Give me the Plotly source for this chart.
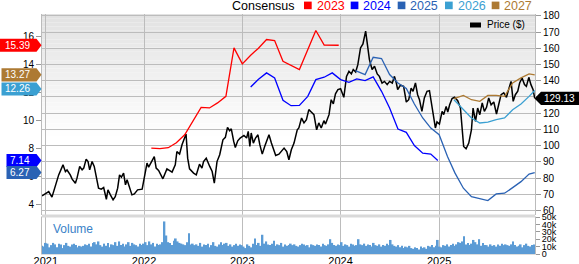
import plotly.graph_objects as go
import pandas as pd

# ---------------- data ----------------
price_dates = [
    "2020-12-18", "2021-01-12", "2021-01-24", "2021-02-12", "2021-02-18", "2021-03-06", "2021-03-15", "2021-03-21",
    "2021-04-02", "2021-04-09", "2021-04-21", "2021-04-27", "2021-05-07", "2021-05-16", "2021-05-22", "2021-05-31",
    "2021-06-07", "2021-06-13", "2021-06-22", "2021-06-30", "2021-07-11", "2021-07-16", "2021-07-26", "2021-08-04",
    "2021-08-14", "2021-08-20", "2021-08-29", "2021-09-08", "2021-09-16", "2021-09-25", "2021-10-02", "2021-10-09",
    "2021-10-17", "2021-10-24", "2021-10-30", "2021-11-05", "2021-11-17", "2021-11-26", "2021-12-08", "2021-12-25",
    "2022-01-02", "2022-01-12", "2022-01-18", "2022-01-28", "2022-02-08", "2022-02-15", "2022-02-24", "2022-03-12",
    "2022-03-21", "2022-03-27", "2022-04-15", "2022-04-27", "2022-05-03", "2022-05-13", "2022-05-22", "2022-05-31",
    "2022-06-06", "2022-06-12", "2022-06-19", "2022-07-04", "2022-07-14", "2022-07-26", "2022-08-04", "2022-08-10",
    "2022-08-20", "2022-09-02", "2022-09-11", "2022-09-19", "2022-09-29", "2022-10-09", "2022-10-21", "2022-10-30",
    "2022-11-07", "2022-11-15", "2022-11-21", "2022-11-30", "2022-12-06", "2022-12-15", "2022-12-24",
    "2023-01-07", "2023-01-17", "2023-01-23", "2023-01-29", "2023-02-03", "2023-02-11", "2023-02-19", "2023-02-28",
    "2023-03-07", "2023-03-16", "2023-03-25", "2023-04-01", "2023-04-10", "2023-04-19", "2023-05-05", "2023-05-17",
    "2023-05-30", "2023-06-05", "2023-06-15", "2023-06-23", "2023-07-02", "2023-07-12", "2023-07-24", "2023-07-30",
    "2023-08-09", "2023-08-18", "2023-08-27", "2023-09-05", "2023-09-14", "2023-09-24", "2023-10-04", "2023-10-12",
    "2023-10-21", "2023-10-31", "2023-11-06", "2023-11-19", "2023-11-27", "2023-12-05", "2023-12-13", "2023-12-22",
    "2024-01-01", "2024-01-13", "2024-01-23", "2024-02-01", "2024-02-10", "2024-02-17", "2024-02-26", "2024-03-05",
    "2024-03-15", "2024-03-24", "2024-04-03", "2024-04-11", "2024-04-17", "2024-04-27", "2024-05-06", "2024-05-16",
    "2024-05-24", "2024-06-03", "2024-06-12", "2024-06-22", "2024-07-01", "2024-07-11", "2024-07-19", "2024-07-26",
    "2024-07-31", "2024-08-10", "2024-08-22", "2024-09-01", "2024-09-10", "2024-09-19", "2024-09-26", "2024-10-05",
    "2024-10-13", "2024-10-20", "2024-10-29", "2024-11-07", "2024-11-17", "2024-11-26", "2024-12-05", "2024-12-18",
    "2024-12-24",
    "2025-01-02", "2025-01-12", "2025-01-18", "2025-01-27", "2025-02-02", "2025-02-09", "2025-02-18", "2025-02-27",
    "2025-03-11", "2025-03-21", "2025-03-27", "2025-04-02", "2025-04-11", "2025-04-21", "2025-05-01", "2025-05-07",
    "2025-05-16", "2025-05-24", "2025-06-01", "2025-06-10", "2025-06-18", "2025-06-26", "2025-07-04", "2025-07-13",
    "2025-07-23", "2025-08-02", "2025-08-10", "2025-08-19", "2025-08-29", "2025-09-08", "2025-09-16", "2025-09-25",
    "2025-10-03", "2025-10-11", "2025-10-20", "2025-10-27", "2025-11-05", "2025-11-14", "2025-11-21", "2025-11-30",
    "2025-12-08", "2025-12-16", "2025-12-22",
]
price_values = [
    69.1, 71.7, 68.3, 80.0, 82.0, 88.2, 84.0, 85.0,
    82.0, 79.4, 76.9, 80.0, 87.2, 85.1, 86.2, 91.7,
    90.2, 85.1, 90.2, 87.2, 79.0, 73.8, 73.2, 74.2,
    67.0, 72.8, 69.7, 66.6, 68.6, 73.8, 82.0, 80.6,
    83.1, 75.9, 79.0, 75.9, 69.7, 70.3, 72.8, 73.2,
    81.0, 89.3, 86.8, 90.2, 93.3, 86.2, 84.7, 79.6,
    84.1, 85.7, 83.7, 88.2, 96.4, 94.8, 100.6, 104.3,
    107.2, 92.3, 85.7, 83.1, 82.0, 88.6, 86.2, 90.2,
    92.3, 87.2, 84.1, 76.9, 90.2, 94.4, 103.6, 105.1,
    111.2, 109.2, 110.4, 102.6, 98.9, 103.0, 104.7,
    106.3, 104.7, 108.8, 99.5, 107.8, 101.6, 104.7, 106.7,
    100.6, 94.8, 99.5, 102.6, 106.7, 101.6, 94.0, 94.8,
    96.9, 98.5, 96.4, 91.3, 97.5, 101.6, 109.8, 110.9,
    117.0, 114.0, 116.0, 122.2, 120.7, 119.1, 109.8, 114.0,
    110.9, 115.4, 113.3, 119.1, 128.3, 125.7, 131.9, 134.5,
    135.1, 129.8, 142.7, 145.8, 144.2, 146.9, 145.4, 149.9,
    160.2, 162.7, 170.5, 160.2, 153.0, 146.9, 148.9, 144.2,
    142.7, 138.6, 139.6, 137.6, 139.6, 138.6, 142.7, 138.6,
    134.5, 137.2, 136.5, 126.9, 128.3, 135.5, 133.5, 138.6,
    131.4, 128.3, 121.1, 129.4, 133.5, 133.9, 123.2, 110.9,
    114.6,
    113.3, 121.1, 119.1, 124.2, 120.7, 125.2, 129.0, 129.8,
    127.7, 123.2, 110.9, 99.5, 98.1, 101.6, 109.8, 123.2,
    114.9, 123.2, 119.1, 126.3, 121.1, 123.6, 129.4, 125.2,
    126.9, 119.5, 125.2, 131.4, 132.5, 129.8, 134.5, 139.6,
    127.3, 131.4, 133.5, 138.6, 141.7, 137.6, 136.5, 142.1,
    137.6, 134.5, 129.13,
]

# Consensus EPS estimates (left axis)
c2023_dates = ["2022-01-28", "2022-03-01", "2022-04-01", "2022-05-01", "2022-06-01", "2022-07-01", "2022-08-01",
               "2022-09-01", "2022-10-01", "2022-11-01", "2022-12-01", "2023-01-01", "2023-02-01", "2023-03-01",
               "2023-04-01", "2023-05-01", "2023-06-01", "2023-08-01", "2023-09-01", "2023-10-01", "2023-11-01",
               "2023-12-25"]
c2023_values = [8.02, 7.98, 8.05, 8.4, 8.98, 9.93, 10.94, 10.9, 11.26, 11.73, 15.2, 14.06, 14.68, 15.16,
                15.8, 15.73, 14.24, 13.65, 15.08, 16.45, 15.4, 15.39]
c2024_dates = ["2023-02-01", "2023-03-01", "2023-04-01", "2023-05-01", "2023-06-01", "2023-07-01", "2023-08-01",
               "2023-09-01", "2023-10-01", "2023-11-01", "2023-12-01", "2024-01-01", "2024-02-01", "2024-03-01",
               "2024-04-01", "2024-05-01", "2024-06-01", "2024-07-01", "2024-08-01", "2024-09-01", "2024-10-01",
               "2024-11-01", "2024-12-01", "2024-12-27"]
c2024_values = [12.4, 12.93, 13.41, 13.05, 11.45, 11.06, 11.08, 11.73, 12.93, 13.1, 13.41, 12.93, 12.74, 12.98,
                12.86, 13.12, 12.09, 10.9, 9.39, 9.15, 8.21, 7.66, 7.59, 7.14]
c2025_dates = ["2024-02-25", "2024-04-01", "2024-05-01", "2024-06-01", "2024-07-01", "2024-08-01", "2024-09-01",
               "2024-10-01", "2024-11-01", "2024-12-01", "2025-01-01", "2025-02-01", "2025-03-01", "2025-04-01",
               "2025-05-01", "2025-06-01", "2025-07-01", "2025-08-01", "2025-09-01", "2025-10-01", "2025-11-01",
               "2025-12-01", "2025-12-22"]
c2025_values = [13.58, 13.29, 14.53, 14.44, 13.29, 12.69, 12.3, 11.18, 10.18, 9.46, 8.98, 7.42, 6.23, 5.15,
                4.55, 4.43, 4.26, 4.74, 4.79, 5.19, 5.62, 6.16, 6.27]
c2026_dates = ["2025-02-25", "2025-04-01", "2025-05-01", "2025-06-01", "2025-07-01", "2025-08-01", "2025-09-01",
               "2025-10-01", "2025-11-01", "2025-12-01", "2025-12-22"]
c2026_values = [11.49, 10.77, 10.18, 9.82, 9.89, 10.06, 10.18, 10.77, 11.18, 11.73, 12.15]
c2027_dates = ["2025-02-25", "2025-04-01", "2025-05-01", "2025-06-01", "2025-07-01", "2025-08-01", "2025-09-01",
               "2025-10-01", "2025-11-01", "2025-12-01", "2025-12-22"]
c2027_values = [11.56, 11.8, 11.49, 11.37, 11.8, 11.8, 11.73, 12.69, 13.05, 13.34, 13.27]

consensus_years = ["2023", "2024", "2025", "2026", "2027"]
consensus_latest = ["15.39", "7.14", "6.27", "12.26", "13.27"]
latest_price = 129.13

# weekly volume (thousands), starting 2020-12-18
volume_k = [
    11, 10,
    # 2021
    15, 14, 9, 12, 15, 13, 9, 14, 13, 8, 12, 15, 11,
    10, 13, 14, 12, 9, 11, 10, 11, 13, 12, 14, 10, 15,
    16, 13, 17, 12, 10, 14, 11, 15, 9, 13, 12, 16, 11,
    17, 12, 14, 10, 13, 16, 11, 15, 13, 12, 10, 14, 12,
    # 2022
    14, 16, 12, 17, 13, 15, 10, 14, 12, 13, 16, 44, 25,
    16, 15, 12, 18, 21, 17, 15, 14, 13, 12, 16, 28, 13,
    14, 12, 13, 11, 15, 10, 13, 12, 14, 9, 12, 16, 11,
    10, 13, 16, 12, 14, 15, 11, 13, 10, 12, 14, 11, 13,
    # 2023
    12, 10, 8, 13, 11, 9, 14, 21, 12, 15, 11, 26, 14,
    17, 13, 12, 14, 18, 11, 13, 12, 15, 10, 13, 11, 12,
    14, 12, 13, 11, 10, 12, 14, 13, 11, 12, 9, 13, 12,
    11, 13, 12, 10, 14, 12, 11, 13, 20, 15, 12, 11, 13,
    # 2024
    12, 16, 11, 13, 12, 10, 14, 13, 11, 12, 20, 13, 12,
    14, 11, 13, 12, 10, 15, 12, 11, 13, 10, 12, 11, 14,
    12, 19, 13, 11, 10, 12, 9, 11, 8, 10, 9, 11, 8,
    7, 9, 8, 6, 10, 8, 9, 7, 11, 10, 12, 9, 11,
    # 2025
    19, 10, 9, 12, 11, 13, 10, 12, 14, 11, 13, 16, 15,
    17, 24, 13, 15, 12, 14, 19, 16, 13, 20, 11, 15, 12,
    12, 10, 13, 11, 12, 10, 13, 11, 14, 12, 13, 12, 11,
    13, 17, 12, 10, 11, 13, 9, 12, 14, 11, 10, 12, 13,
]
volume_dates = pd.date_range("2020-12-18", periods=len(volume_k), freq="7D")
volume = [v * 1000 for v in volume_k]

price_ticks = list(range(60, 190, 10))
eps_ticks = [4, 6, 8, 10, 12, 14, 16]
vol_ticks = [0, 10000, 20000, 30000, 40000, 50000]
vol_ticktext = ["0", "10k", "20k", "30k", "40k", "50k"]
year_ticks = ["2021-01-01", "2022-01-01", "2023-01-01", "2024-01-01", "2025-01-01"]

# ---------------- styles / geometry ----------------
W, H = 579, 264
ML, MR, MT, MB = 42, 44, 14, 10
PW, PH = W - ML - MR, H - MT - MB
FONT = "Liberation Sans, Arial, sans-serif"
GRID = "#bcbcbc"
colors = {"2023": "#ff0000", "2024": "#0000ff", "2025": "#2a62b4", "2026": "#3ba0d2", "2027": "#ad7a33"}


def px(x):
    return (x - ML) / PW


def py(y):
    return (H - MB - y) / PH


fig = go.Figure()

# price on the base (right) axis, which carries the horizontal grid
fig.add_trace(go.Scatter(x=price_dates, y=price_values, mode="lines", line=dict(color="#000000", width=1.5),
                         xaxis="x", yaxis="y", showlegend=False))

series = [(c2023_dates, c2023_values), (c2024_dates, c2024_values), (c2025_dates, c2025_values),
          (c2026_dates, c2026_values), (c2027_dates, c2027_values)]
for yr, (d, v) in zip(consensus_years, series):
    fig.add_trace(go.Scatter(x=d, y=v, mode="lines", line=dict(color=colors[yr], width=1.3),
                             xaxis="x", yaxis="y2", showlegend=False, hoverinfo="skip"))

fig.add_trace(go.Bar(x=volume_dates, y=volume, marker=dict(color="#5b9bd5", line=dict(width=0)),
                     xaxis="x2", yaxis="y3", showlegend=False))

main_dom = [py(215), 1]
vol_dom = [0, py(217)]
xr = ["2020-12-18", "2025-12-23"]

fig.update_layout(
    width=W, height=H, margin=dict(l=ML, r=MR, t=MT, b=MB, autoexpand=False),
    paper_bgcolor="white", plot_bgcolor="rgba(0,0,0,0)",
    font=dict(family=FONT, size=10, color="#000"),
    bargap=0.12,
    xaxis=dict(domain=[0, 1], anchor="y", range=xr, type="date", tickvals=year_ticks, showticklabels=False,
               showgrid=True, gridcolor=GRID, gridwidth=1, zeroline=False, ticks="", automargin=False),
    yaxis=dict(domain=main_dom, anchor="x", side="right", range=[57.3, 181.1], showgrid=True, gridcolor=GRID,
               gridwidth=1, tickvals=price_ticks, ticks="outside", ticklen=5, tickcolor="#999", showline=True,
               linecolor="#bbbbbb", tickfont=dict(size=10), zeroline=False, automargin=False),
    yaxis2=dict(domain=main_dom, anchor="x", overlaying="y", side="left", range=[3.23, 17.63], showgrid=False,
                tickvals=eps_ticks, ticks="outside", ticklen=5, tickcolor="#999", showline=True,
                linecolor="#bbbbbb", tickfont=dict(size=10), zeroline=False, automargin=False),
    xaxis2=dict(domain=[0, 1], anchor="y3", matches="x", range=xr, type="date", tickvals=year_ticks,
                tickformat="%Y", showgrid=True, gridcolor=GRID, ticks="", tickfont=dict(size=11),
                ticklabelstandoff=-3,
                showline=True, linecolor="#dddddd", mirror=True, zeroline=False, automargin=False),
    yaxis3=dict(domain=vol_dom, anchor="x2", side="right", range=[0, 50000], tickvals=vol_ticks,
                ticktext=vol_ticktext, ticks="outside", ticklen=4, tickcolor="#999", showgrid=False,
                showline=True, linecolor="#bbbbbb", mirror=True, tickfont=dict(size=9), zeroline=False,
                automargin=False),
)

shapes = []
# vertical gradient background for the price panel
N = 30
top_px, bot_px = 14, 140
for i in range(N):
    t = i / (N - 1)
    c = int(226 + (255 - 226) * t)
    y0 = top_px + (bot_px - top_px) * i / N
    y1 = top_px + (bot_px - top_px) * (i + 1) / N
    shapes.append(dict(type="rect", xref="paper", yref="paper", x0=0, x1=1, y0=py(y1), y1=py(y0),
                       fillcolor=f"rgb({c},{c},{c})", line=dict(width=0), layer="below"))
# separator between panels
shapes.append(dict(type="rect", xref="paper", yref="paper", x0=0, x1=1, y0=py(217.5), y1=py(214.5),
                   fillcolor="#d9d9d9", line=dict(width=0), layer="above"))

annotations = []
# left flags (latest consensus)
flag_left_px = {"2023": 0, "2024": 6.5, "2025": 6.5, "2026": 1.5, "2027": 1.5}
half = 6.5 / 13.92
for yr, lab in zip(consensus_years, consensus_latest):
    v = float(lab)
    x0, x1, x2 = px(flag_left_px[yr]), px(36.5), px(41.5)
    path = f"M {x0},{v - half} L {x1},{v - half} L {x2},{v} L {x1},{v + half} L {x0},{v + half} Z"
    shapes.append(dict(type="path", xref="paper", yref="y2", path=path, fillcolor=colors[yr],
                       line=dict(width=0), layer="above"))
    annotations.append(dict(xref="paper", yref="y2", x=px(32), y=v, text=lab, showarrow=False,
                            xanchor="right", yanchor="middle", font=dict(color="white", size=10)))

# right flag (latest price)
ph = 6.5 / 1.62
xa, xb, xc = px(534.5), px(541), px(579)
path = (f"M {xa},{latest_price} L {xb},{latest_price - ph} L {xc},{latest_price - ph} "
        f"L {xc},{latest_price + ph} L {xb},{latest_price + ph} Z")
shapes.append(dict(type="path", xref="paper", yref="y", path=path, fillcolor="#000000",
                   line=dict(width=0), layer="above"))
annotations.append(dict(xref="paper", yref="y", x=px(559.5), y=latest_price, text=f"{latest_price:.2f}",
                        showarrow=False, xanchor="center", yanchor="middle", font=dict(color="white", size=10)))

# top legend
annotations.append(dict(xref="paper", yref="paper", x=px(230), y=py(5.5), text="Consensus", showarrow=False,
                        xanchor="left", yanchor="middle", font=dict(size=12.5, color="#000")))
leg_x = {"2023": 304, "2024": 350.7, "2025": 397.7, "2026": 445, "2027": 491.7}
for yr in consensus_years:
    bx = leg_x[yr]
    shapes.append(dict(type="rect", xref="paper", yref="paper", x0=px(bx), x1=px(bx + 7.7), y0=py(9.2),
                       y1=py(1.6), fillcolor=colors[yr], line=dict(width=0), layer="above"))
    annotations.append(dict(xref="paper", yref="paper", x=px(bx + 10.5), y=py(5.5), text=yr, showarrow=False,
                            xanchor="left", yanchor="middle", font=dict(size=12.5, color=colors[yr])))

# price legend
shapes.append(dict(type="rect", xref="paper", yref="paper", x0=px(470), x1=px(481), y0=py(27.5), y1=py(22.5),
                   fillcolor="#000", line=dict(width=0), layer="above"))
annotations.append(dict(xref="paper", yref="paper", x=px(484.5), y=py(25), text="Price ($)", showarrow=False,
                        xanchor="left", yanchor="middle", font=dict(size=10, color="#000")))

# volume label
annotations.append(dict(xref="paper", yref="paper", x=px(51), y=py(228.5), text="Volume", showarrow=False,
                        xanchor="left", yanchor="middle", font=dict(size=12, color="#3a82c8")))

fig.update_layout(shapes=shapes, annotations=annotations)
fig.write_html("out.html")
